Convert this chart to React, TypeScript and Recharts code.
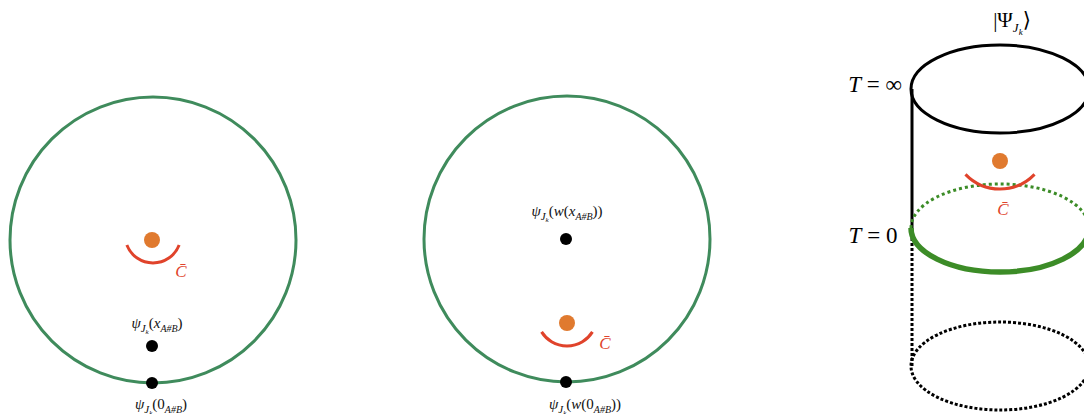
import React from 'react';
import { ScatterChart, Scatter, XAxis, YAxis, ReferenceLine } from 'recharts';

// diagram units: 1 unit = 1 px, y measured from the top
const W = 1084;
const H = 414;

const circles = [
  { x: 153, y: 240, r: 143 },
  { x: 567, y: 239, r: 143 },
];
const orangeDots = [
  { x: 152, y: 240 },
  { x: 567, y: 323 },
  { x: 1000, y: 161 },
];
const blackDots = [
  { x: 152, y: 346 },
  { x: 152, y: 383 },
  { x: 566, y: 239 },
  { x: 566, y: 382 },
];
// x/y = centre of the arc circle, r = radius, a = angle of the ends below horizontal (deg)
const arcs = [
  { x: 153, y: 235, r: 28, a: 21 },
  { x: 567, y: 316, r: 30, a: 32 },
  { x: 1000, y: 141, r: 48, a: 44 },
];
const cylinderTop = [{ x: 1000, y: 89, rx: 89, ry: 44 }];
const cylinderMid = [{ x: 1000, y: 228, rx: 89, ry: 44 }];
const cylinderBottom = [{ x: 1000, y: 366, rx: 89, ry: 44 }];
const cBarLabels = [
  { x: 181, y: 277 },
  { x: 605, y: 349 },
  { x: 1003, y: 215 },
];
const psiLabels = [
  { x: 157, y: 328, arg: 'x', wrap: false },
  { x: 161, y: 409, arg: '0', wrap: false },
  { x: 567, y: 216, arg: 'x', wrap: true },
  { x: 585, y: 409, arg: '0', wrap: true },
];
const tLabels = [
  { x: 875, y: 92, text: 'T = ∞' },
  { x: 873, y: 243, text: 'T = 0' },
];
const stateLabel = [{ x: 1012, y: 27 }];

const GREEN = '#3f8b5c';
const CYL_GREEN = '#3c8c27';
const ORANGE = '#e07a2f';
const RED = '#e0432b';
const SERIF = '"Liberation Serif", "DejaVu Serif", serif';

const k = 1; // px per unit (chart size equals domain span)

const arcPath = (cx: number, cy: number, r: number, a: number) => {
  const t = (a * Math.PI) / 180;
  const dx = r * Math.cos(t);
  const dy = r * Math.sin(t);
  return `M ${cx - dx} ${cy + dy} A ${r} ${r} 0 0 0 ${cx + dx} ${cy + dy}`;
};

const halfEllipse = (cx: number, cy: number, rx: number, ry: number, top: boolean) =>
  `M ${cx - rx} ${cy} A ${rx} ${ry} 0 0 ${top ? 1 : 0} ${cx + rx} ${cy}`;

const PsiLabel = ({ x, y, arg, wrap }: { x: number; y: number; arg: string; wrap: boolean }) => (
  <text x={x} y={y} textAnchor="middle" fontFamily={SERIF} fontSize={15} fontStyle="italic" fill="#111">
    <tspan>ψ</tspan>
    <tspan dy={4} fontSize={11}>J</tspan>
    <tspan dy={2} fontSize={7}>k</tspan>
    <tspan dy={-6} fontStyle="normal">(</tspan>
    {wrap && <tspan>w</tspan>}
    {wrap && <tspan fontStyle="normal">(</tspan>}
    <tspan fontStyle={arg === '0' ? 'normal' : 'italic'}>{arg}</tspan>
    <tspan dy={4} fontSize={10}>A#B</tspan>
    <tspan dy={-4} fontStyle="normal">{wrap ? '))' : ')'}</tspan>
  </text>
);

export default function App() {
  return (
    <div style={{ position: 'absolute', left: 0, top: 0, width: W, height: H, background: '#fff' }}>
      <ScatterChart width={W} height={H} margin={{ top: 0, right: 0, bottom: 0, left: 0 }}>
        <XAxis type="number" dataKey="x" domain={[0, W]} hide allowDataOverflow />
        <YAxis type="number" dataKey="y" domain={[0, H]} reversed hide allowDataOverflow />

        <Scatter
          data={circles}
          isAnimationActive={false}
          shape={(p: any) => (
            <ellipse cx={p.cx} cy={p.cy} rx={p.payload.r * k} ry={p.payload.r * k} fill="none" stroke={GREEN} strokeWidth={3} />
          )}
        />

        {/* cylinder */}
        <Scatter
          data={cylinderTop}
          isAnimationActive={false}
          shape={(p: any) => (
            <ellipse cx={p.cx} cy={p.cy} rx={p.payload.rx * k} ry={p.payload.ry * k} fill="none" stroke="#000" strokeWidth={3} />
          )}
        />
        <Scatter
          data={cylinderBottom}
          isAnimationActive={false}
          shape={(p: any) => (
            <ellipse cx={p.cx} cy={p.cy} rx={p.payload.rx * k} ry={p.payload.ry * k} fill="none" stroke="#000" strokeWidth={3} strokeDasharray="3 2" />
          )}
        />
        <ReferenceLine segment={[{ x: 912, y: 89 }, { x: 912, y: 228 }]} stroke="#000" strokeWidth={3} ifOverflow="visible" />
        <ReferenceLine segment={[{ x: 912, y: 228 }, { x: 912, y: 366 }]} stroke="#000" strokeWidth={3} strokeDasharray="3 2" ifOverflow="visible" />
        <Scatter
          data={cylinderMid}
          isAnimationActive={false}
          shape={(p: any) => (
            <g>
              <path d={halfEllipse(p.cx, p.cy, p.payload.rx * k, p.payload.ry * k, true)} fill="none" stroke={CYL_GREEN} strokeWidth={3} strokeDasharray="3 3" />
              <path d={halfEllipse(p.cx, p.cy, p.payload.rx * k, p.payload.ry * k, false)} fill="none" stroke={CYL_GREEN} strokeWidth={5.5} />
            </g>
          )}
        />

        <Scatter
          data={arcs}
          isAnimationActive={false}
          shape={(p: any) => (
            <path d={arcPath(p.cx, p.cy, p.payload.r * k, p.payload.a)} fill="none" stroke={RED} strokeWidth={3} />
          )}
        />
        <Scatter data={orangeDots} isAnimationActive={false} shape={(p: any) => <circle cx={p.cx} cy={p.cy} r={8} fill={ORANGE} />} />
        <Scatter data={blackDots} isAnimationActive={false} shape={(p: any) => <circle cx={p.cx} cy={p.cy} r={6} fill="#000" />} />

        {/* labels */}
        <Scatter
          data={cBarLabels}
          isAnimationActive={false}
          shape={(p: any) => (
            <text x={p.cx} y={p.cy} textAnchor="middle" fontFamily={SERIF} fontSize={17} fontStyle="italic" fill={RED}>
              C̄
            </text>
          )}
        />
        <Scatter
          data={psiLabels}
          isAnimationActive={false}
          shape={(p: any) => <PsiLabel x={p.cx} y={p.cy} arg={p.payload.arg} wrap={p.payload.wrap} />}
        />
        <Scatter
          data={tLabels}
          isAnimationActive={false}
          shape={(p: any) => (
            <text x={p.cx} y={p.cy} textAnchor="middle" fontFamily={SERIF} fontSize={23} fill="#000">
              <tspan fontStyle="italic">T</tspan>
              <tspan>{p.payload.text.slice(1)}</tspan>
            </text>
          )}
        />
        <Scatter
          data={stateLabel}
          isAnimationActive={false}
          shape={(p: any) => (
            <text x={p.cx} y={p.cy} textAnchor="middle" fontFamily={SERIF} fontSize={21} fill="#000">
              <tspan>|Ψ</tspan>
              <tspan dy={5} fontSize={13} fontStyle="italic">J</tspan>
              <tspan dy={3} fontSize={9} fontStyle="italic">k</tspan>
              <tspan dy={-8}>⟩</tspan>
            </text>
          )}
        />
      </ScatterChart>
    </div>
  );
}
